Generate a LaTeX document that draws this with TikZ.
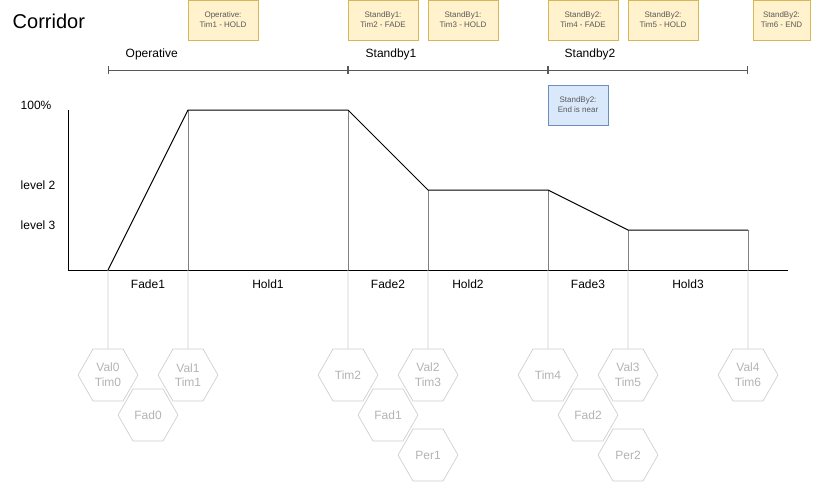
\documentclass[tikz,border=0pt]{standalone}
\usepackage{fontspec}
\setmainfont{Liberation Sans}
\usetikzlibrary{arrows.meta,shapes.geometric}
\definecolor{noteyellow}{HTML}{FFF2CC}
\definecolor{noteyellowline}{HTML}{D6B656}
\definecolor{noteblue}{HTML}{DAE8FC}
\definecolor{noteblueline}{HTML}{6C8EBF}
\definecolor{hexline}{HTML}{CCCCCC}
\definecolor{hextext}{HTML}{B3B3B3}
\begin{document}
\begin{tikzpicture}[x=0.75pt,y=-0.75pt,
    note/.style={draw=noteyellowline,fill=noteyellow,line width=0.5pt,minimum width=52.5pt,minimum height=30pt,
                 inner sep=0pt,align=center,font=\fontsize{6}{7.5}\selectfont,text=black!65},
    hexa/.style={draw=hexline,regular polygon,regular polygon sides=6,minimum size=45pt,inner sep=0pt,
                 align=center,font=\fontsize{9}{11}\selectfont,text=hextext,line width=0.5pt},
    lbl/.style={font=\fontsize{9}{11}\selectfont},
    stem/.style={draw=hexline,line width=0.5pt},
    drop/.style={draw=black!50,line width=0.5pt},
    phase/.style={draw=black!65,line width=0.5pt,{Bar[width=5.5pt]}-{Bar[width=5.5pt]}}]
    \useasboundingbox (0,0) rectangle (814,482);
    \node [anchor=west,font=\fontsize{15}{18}\selectfont] (title) at (8,21) {Corridor};
    % notes on top
    \node [note] (opHold) at (223,20) {Operative:\\Tim1 - HOLD};
    \node [note] (sbFade) at (383,20) {StandBy1:\\Tim2 - FADE};
    \node [note] (sbHold) at (463,20) {StandBy1:\\Tim3 - HOLD};
    \node [note] (sbbFade) at (583,20) {StandBy2:\\Tim4 - FADE};
    \node [note] (sbbHold) at (663,20) {StandBy2:\\Tim5 - HOLD};
    \node [note,minimum width=42.75pt] (sbbEnd) at (781.5,20) {StandBy2:\\Tim6 - END};
    \node [note,draw=noteblueline,fill=noteblue,minimum width=45pt] (sbbNear) at (578,105) {StandBy2:\\End is near};
    % phases
    \coordinate (m0) at (108,70);
    \coordinate (m1) at (348,70);
    \coordinate (m2) at (548,70);
    \coordinate (m3) at (748,70);
    \draw [phase] (m0) -- (m1);
    \draw [phase] (m1) -- (m2);
    \draw [phase] (m2) -- (m3);
    \node [lbl,anchor=west] (opLbl) at (121,54) {Operative};
    \node [lbl,anchor=west] (sbLbl) at (361,54) {Standby1};
    \node [lbl,anchor=west] (sbbLbl) at (560,54) {Standby2};
    % levels
    \node [lbl,anchor=west] (full) at (16,105) {100\%};
    \node [lbl,anchor=west] (lvl2) at (16,185) {level 2};
    \node [lbl,anchor=west] (lvl3) at (16,225) {level 3};
    % curve points and axis points
    \coordinate (p0) at (108,270);
    \coordinate (p1) at (188,110);
    \coordinate (p2) at (348,110);
    \coordinate (p3) at (428,190);
    \coordinate (p4) at (548,190);
    \coordinate (p5) at (628,230);
    \coordinate (p6) at (748,230);
    \foreach \i/\x in {1/188,2/348,3/428,4/548,5/628,6/748}
        \coordinate (a\i) at (\x,270);
    \foreach \i in {1,...,6}
        \draw [drop] (p\i) -- (a\i);
    \draw [line width=0.75pt] (68,110) -- (68,270) -- (788,270);
    \draw [line width=0.75pt,line join=round] (p0) -- (p1) -- (p2) -- (p3) -- (p4) -- (p5) -- (p6);
    % segments
    \node [lbl] (fade1) at (148,284) {Fade1};
    \node [lbl] (hold1) at (268,284) {Hold1};
    \node [lbl] (fade2) at (388,284) {Fade2};
    \node [lbl] (hold2) at (468,284) {Hold2};
    \node [lbl] (fade3) at (588,284) {Fade3};
    \node [lbl] (hold3) at (688,284) {Hold3};
    % values
    \node [hexa] (val0) at (108,375) {Val0\\Tim0};
    \node [hexa] (val1) at (188,375) {Val1\\Tim1};
    \node [hexa] (tim2) at (348,375) {Tim2};
    \node [hexa] (val2) at (428,375) {Val2\\Tim3};
    \node [hexa] (tim4) at (548,375) {Tim4};
    \node [hexa] (val3) at (628,375) {Val3\\Tim5};
    \node [hexa] (val4) at (748,375) {Val4\\Tim6};
    \node [hexa] (fad0) at (148,415) {Fad0};
    \node [hexa] (fad1) at (388,415) {Fad1};
    \node [hexa] (fad2) at (588,415) {Fad2};
    \node [hexa] (per1) at (428,455) {Per1};
    \node [hexa] (per2) at (628,455) {Per2};
    \draw [stem] (p0) -- (val0);
    \draw [stem] (a1) -- (val1);
    \draw [stem] (a2) -- (tim2);
    \draw [stem] (a3) -- (val2);
    \draw [stem] (a4) -- (tim4);
    \draw [stem] (a5) -- (val3);
    \draw [stem] (a6) -- (val4);
\end{tikzpicture}
\end{document}
